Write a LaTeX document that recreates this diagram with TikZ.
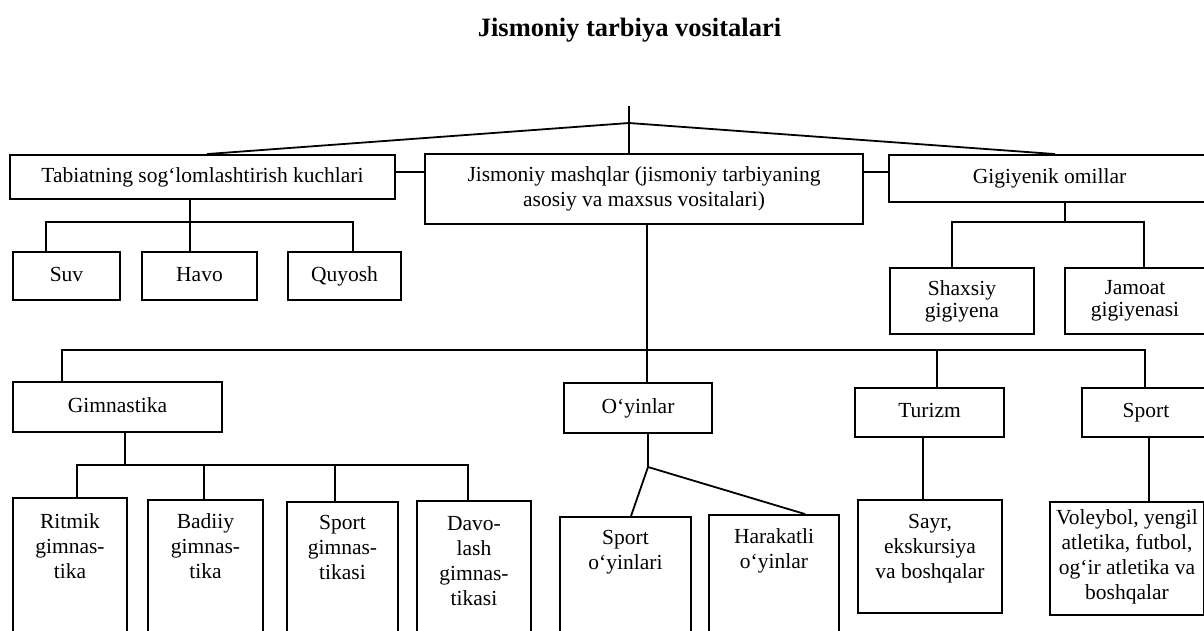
\documentclass[tikz,border=0pt]{standalone}
\usepackage{fontspec}
\setmainfont{Liberation Serif}
\newcommand\bodyf{\fontsize{21.5}{25}\selectfont}
\newcommand\titlef{\fontsize{26.5}{30}\selectfont\bfseries}
\tikzset{
  box/.style={draw, line width=1.9pt, rectangle, inner sep=0pt, align=center, font=\bodyf},
  one/.style={text height=15pt, text depth=5pt},
  lbl/.style={inner sep=0pt, align=center, font=\bodyf},
  conn/.style={line width=1.8pt, line join=miter},
}
\begin{document}
\begin{tikzpicture}[x=1pt, y=-1pt]
\useasboundingbox (0,0) rectangle (1204,630);
\fill[white] (0,0) rectangle (1204,630);

% title
\node[font=\titlef, inner sep=0pt] (title) at (629.5,30) {Jismoniy tarbiya vositalari};

% level 1
\node[box, one, minimum width=385, minimum height=44] (tab) at (202.5,177) {Tabiatning sog‘lomlashtirish kuchlari};
\node[box, minimum width=438, minimum height=70] (jis) at (644,189) {Jismoniy mashqlar (jismoniy tarbiyaning\\asosiy va maxsus vositalari)};
\node[box, one, minimum width=321, minimum height=47] (gig) at (1049.5,178.5) {Gigiyenik omillar};

% level 2 (left, right)
\node[box, one, minimum width=107, minimum height=48] (suv) at (66.5,276) {Suv};
\node[box, one, minimum width=115, minimum height=48] (havo) at (199.5,276) {Havo};
\node[box, one, minimum width=113, minimum height=48] (quy) at (344.5,276) {Quyosh};
\node[box, minimum width=144, minimum height=66] (shax) at (962,301) {Shaxsiy\\[-3pt]gigiyena};
\node[box, minimum width=140, minimum height=66] (jam) at (1135,301) {Jamoat\\[-3pt]gigiyenasi};

% level 2 (middle)
\node[box, one, minimum width=209, minimum height=50] (gim) at (117.5,407) {Gimnastika};
\node[box, one, minimum width=148, minimum height=50] (oyin) at (638,408) {O‘yinlar};
\node[box, one, minimum width=149, minimum height=49] (tur) at (929.5,412.5) {Turizm};
\node[box, one, minimum width=128, minimum height=49] (sport) at (1146,412.5) {Sport};

% level 3 frames
\node[box, minimum width=114, minimum height=150] (rit) at (70,573) {};
\node[box, minimum width=115, minimum height=148] (bad) at (205.5,574) {};
\node[box, minimum width=111, minimum height=146] (sgim) at (342.5,575) {};
\node[box, minimum width=114, minimum height=147] (dav) at (474,574.5) {};
\node[box, minimum width=131, minimum height=131] (soy) at (625.5,582.5) {};
\node[box, minimum width=130, minimum height=133] (har) at (774,581.5) {};
\node[box, minimum width=144, minimum height=113] (sayr) at (930,556.5) {};
\node[box, minimum width=154, minimum height=113] (vol) at (1127,558.5) {};

% level 3 texts
\node[lbl] (ritt) at (70,546) {Ritmik\\gimnas-\\tika};
\node[lbl] (badt) at (205.5,546) {Badiiy\\gimnas-\\tika};
\node[lbl] (sgimt) at (342.5,547) {Sport\\gimnas-\\tikasi};
\node[lbl] (davt) at (474,561) {Davo-\\lash\\gimnas-\\tikasi};
\node[lbl] (soyt) at (625.5,552) {Sport\\o‘yinlari};
\node[lbl] (hart) at (774,551) {Harakatli\\o‘yinlar};
\node[lbl] (sayrt) at (930,549) {Sayr,\\ekskursiya\\va boshqalar};
\node[lbl] (volt) at (1127,556.5) {Voleybol, yengil\\atletika, futbol,\\og‘ir atletika va\\boshqalar};

% top connectors
\coordinate (ttop) at (629,106);
\coordinate (apex) at (629,123);
\coordinate (lend) at (207,0);
\coordinate (rend) at (1055,0);
\draw[conn] (ttop) -- (ttop |- jis.north);
\draw[conn] (tab.north -| lend) -- (apex) -- (gig.north -| rend);

\coordinate (hl) at (410,172);
\draw[conn] (hl -| tab.east) -- (hl -| jis.west);
\draw[conn] (hl -| jis.east) -- (hl -| gig.west);

% Tabiatning children
\coordinate (tb) at (190,222);
\coordinate (t1) at (46,222);
\coordinate (t2) at (353,222);
\draw[conn] (tab.south -| tb) -- (havo.north -| tb);
\draw[conn] (suv.north -| t1) -- (t1) -- (t2) -- (quy.north -| t2);

% Gigiyenik children
\coordinate (gb) at (1065,222);
\coordinate (g1) at (952,222);
\coordinate (g2) at (1144,222);
\draw[conn] (gig.south -| gb) -- (gb);
\draw[conn] (shax.north -| g1) -- (g1) -- (g2) -- (jam.north -| g2);

% Jismoniy children
\coordinate (jb) at (647,350);
\coordinate (j1) at (62,350);
\coordinate (j2) at (937,350);
\coordinate (j3) at (1145,350);
\draw[conn] (jis.south -| jb) -- (oyin.north -| jb);
\draw[conn] (gim.north -| j1) -- (j1) -- (j3) -- (sport.north -| j3);
\draw[conn] (j2) -- (tur.north -| j2);

% Gimnastika children
\coordinate (mb) at (125,465);
\coordinate (m1) at (77,465);
\coordinate (m2) at (204,465);
\coordinate (m3) at (335,465);
\coordinate (m4) at (468,465);
\draw[conn] (gim.south -| mb) -- (mb);
\draw[conn] (rit.north -| m1) -- (m1) -- (m4) -- (dav.north -| m4);
\draw[conn] (m2) -- (bad.north -| m2);
\draw[conn] (m3) -- (sgim.north -| m3);

% O'yinlar children
\coordinate (ob) at (648,467);
\coordinate (o1) at (631,0);
\coordinate (o2) at (805,0);
\draw[conn] (oyin.south -| ob) -- (ob);
\draw[conn] (ob) -- (soy.north -| o1);
\draw[conn] (ob) -- (har.north -| o2);

% Turizm, Sport children
\coordinate (rb) at (923,0);
\coordinate (sb) at (1149,0);
\draw[conn] (tur.south -| rb) -- (sayr.north -| rb);
\draw[conn] (sport.south -| sb) -- (vol.north -| sb);
\end{tikzpicture}
\end{document}
